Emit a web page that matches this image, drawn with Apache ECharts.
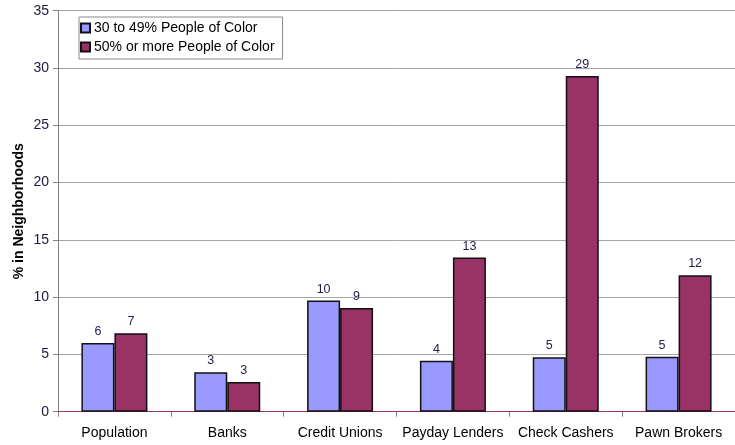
<!DOCTYPE html>
<html>
<head>
<meta charset="utf-8">
<script src="https://cdn.jsdelivr.net/npm/echarts@6/dist/echarts.min.js"></script>
<style>
  html, body { margin: 0; padding: 0; background: #fff; }
  #chart { width: 735px; height: 445px; }
</style>
</head>
<body>
<div id="chart"></div>
<script>
// Share of each institution type located in neighborhoods by people-of-color share
const categories = ['Population', 'Banks', 'Credit Unions', 'Payday Lenders', 'Check Cashers', 'Pawn Brokers'];
const seriesNames = ['30 to 49% People of Color', '50% or more People of Color'];
const pocMid = [6.0, 3.45, 9.7, 4.45, 4.75, 4.8];
const pocHigh = [6.85, 2.6, 9.05, 13.45, 29.3, 11.9];
const yTicks = [0, 5, 10, 15, 20, 25, 30, 35];

const FONT = 'Liberation Sans, Arial, sans-serif';
const chart = echarts.init(document.getElementById('chart'), null, { renderer: 'canvas' });

const labelStyle = {
  show: true,
  position: 'top',
  distance: 5,
  color: '#22224f',
  fontFamily: FONT,
  fontSize: 12.5,
  formatter: p => String(Math.round(p.value))
};

chart.setOption({
  animation: false,
  backgroundColor: '#ffffff',
  grid: { left: 58, top: 10.7, width: 686, height: 401 },
  legend: {
    orient: 'vertical',
    left: 79,
    top: 17,
    itemWidth: 9,
    itemHeight: 9,
    itemGap: 5,
    padding: [4, 8, 5, 1],
    backgroundColor: '#ffffff',
    borderColor: '#8a8a8a',
    borderWidth: 1,
    borderRadius: 0,
    icon: 'rect',
    textStyle: {
      fontFamily: FONT,
      fontSize: 14,
      color: '#000000',
      padding: [0, 0, 0, -1]
    },
    data: seriesNames
  },
  xAxis: {
    type: 'category',
    data: categories,
    axisLine: { lineStyle: { color: '#993366', width: 1 } },
    axisTick: { show: true, length: 5, lineStyle: { color: '#808080' } },
    axisLabel: {
      interval: 0,
      color: '#000000',
      fontFamily: FONT,
      fontSize: 14,
      margin: 14
    }
  },
  yAxis: {
    type: 'value',
    min: yTicks[0],
    max: yTicks[yTicks.length - 1],
    interval: 5,
    name: '% in Neighborhoods',
    nameLocation: 'middle',
    nameGap: 32,
    nameMoveOverlap: false,
    nameTextStyle: {
      fontFamily: FONT,
      fontSize: 14,
      fontWeight: 'bold',
      color: '#000000'
    },
    axisLine: { show: true, lineStyle: { color: '#808080' } },
    axisTick: { show: true, length: 5, lineStyle: { color: '#808080' } },
    axisLabel: {
      color: '#1a1a40',
      fontFamily: FONT,
      fontSize: 14,
      margin: 9
    },
    splitLine: { show: true, lineStyle: { color: '#a6a6a6', width: 1 } }
  },
  series: [
    {
      name: seriesNames[0],
      type: 'bar',
      data: pocMid,
      barWidth: 33,
      barGap: '0%',
      itemStyle: { color: '#9999ff', borderColor: '#111111', borderWidth: 1.5 },
      label: labelStyle
    },
    {
      name: seriesNames[1],
      type: 'bar',
      data: pocHigh,
      barWidth: 33,
      barGap: '0%',
      itemStyle: { color: '#993366', borderColor: '#111111', borderWidth: 1.5 },
      label: labelStyle
    }
  ]
});
</script>
</body>
</html>
